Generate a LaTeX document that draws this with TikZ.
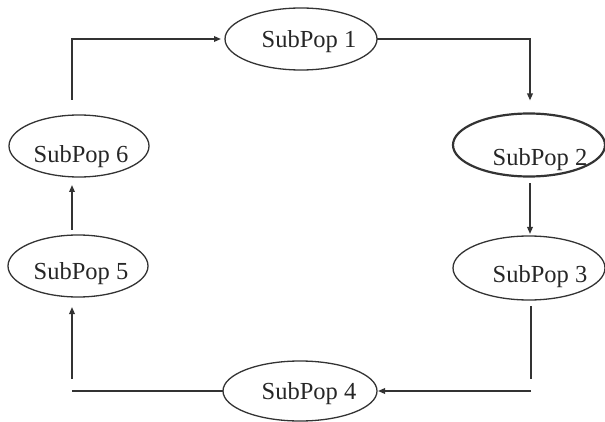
\documentclass[tikz,border=0pt]{standalone}
\usepackage{fontspec}
\setmainfont{Liberation Serif}
\usetikzlibrary{shapes.geometric,arrows.meta}
\begin{document}
\begin{tikzpicture}[x=1pt,y=-1pt,
  pop/.style={ellipse,draw=black!80,line width=1.3pt,inner sep=0pt,outer sep=0pt,
              minimum width=152pt,minimum height=62pt},
  popsmall/.style={pop,minimum width=140pt},
  lab/.style={font=\fontsize{24.5}{29}\selectfont,text=black!85,inner sep=0pt},
  conn/.style={draw=black!80,line width=1.6pt},
  arr/.style={conn,-{Triangle[length=7pt,width=5.5pt]}}]
\useasboundingbox (0,0) rectangle (605,422);

\node[pop,label={[lab,xshift=8pt,yshift=-3pt]center:SubPop 1}] (n1) at (301,39) {};
\node[pop,line width=2.2pt,minimum height=63pt,label={[lab,xshift=11pt,yshift=-15pt]center:SubPop 2}] (n2) at (529,145) {};
\node[pop,minimum height=64pt,label={[lab,xshift=11pt,yshift=-9pt]center:SubPop 3}] (n3) at (529,268) {};
\node[pop,minimum width=154pt,minimum height=60pt,label={[lab,xshift=9pt,yshift=-3pt]center:SubPop 4}] (n4) at (300,391) {};
\node[popsmall,label={[lab,xshift=3pt,yshift=-8pt]center:SubPop 5}] (n5) at (78,266) {};
\node[popsmall,label={[lab,xshift=2pt,yshift=-11pt]center:SubPop 6}] (n6) at (79,146) {};

% 6 -> 1
\coordinate (s6) at ([xshift=-7pt,yshift=15pt]n6.north);
\draw[arr,shorten >=4pt] (s6) |- (n1.west);
% 1 -> 2
\coordinate (e2) at ([xshift=1pt,yshift=13pt]n2.north);
\draw[arr] (n1.east) -| (e2);
% 2 -> 3
\coordinate (s2) at ([xshift=1pt,yshift=-7pt]n2.south);
\coordinate (e3) at ([xshift=1pt,yshift=2pt]n3.north);
\draw[arr] (s2) -- (e3);
% 3 -> 4
\coordinate (s3) at ([xshift=2pt,yshift=-6pt]n3.south);
\coordinate (k4) at (n4.east -| s3);
\coordinate (k3) at ([yshift=12pt]k4);
\draw[conn] (s3) -- (k3);
\draw[arr,shorten >=1pt] (k4) -- (n4.east);
% 4 -> 5
\coordinate (e5) at ([xshift=-6pt,yshift=-10pt]n5.south);
\coordinate (k5) at (n4.west -| e5);
\coordinate (s4) at ([yshift=12pt]k5);
\draw[conn] (n4.west) -- (k5);
\draw[arr] (s4) -- (e5);
% 5 -> 6
\coordinate (s5) at ([xshift=-6pt,yshift=5pt]n5.north);
\coordinate (e6) at ([xshift=-7pt,yshift=-8pt]n6.south);
\draw[arr] (s5) -- (e6);
\end{tikzpicture}
\end{document}
